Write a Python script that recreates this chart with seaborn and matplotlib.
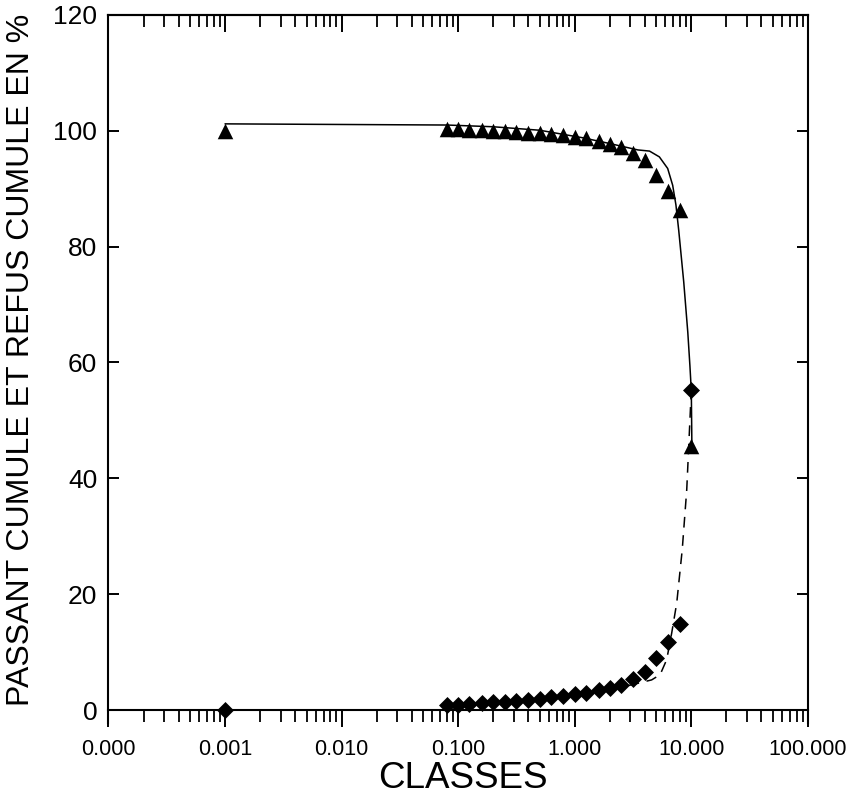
import matplotlib
matplotlib.use("Agg")
import numpy as np
import pandas as pd
import seaborn as sns
import matplotlib.pyplot as plt
from matplotlib.ticker import LogLocator, FixedLocator, FixedFormatter, NullFormatter

# ---------------- data ----------------
sizes = [0.001, 0.08, 0.1, 0.125, 0.16, 0.2, 0.25, 0.315, 0.4, 0.5, 0.63, 0.8,
         1.0, 1.25, 1.6, 2.0, 2.5, 3.15, 4.0, 5.0, 6.3, 8.0, 10.0]
passant = [100.0, 100.3, 100.3, 100.1, 100.1, 100.0, 99.9, 99.8, 99.6, 99.6, 99.4, 99.3,
           99.0, 98.7, 98.2, 97.8, 97.2, 96.1, 94.9, 92.3, 89.6, 86.3, 45.6]
refus = [0.0, 0.9, 0.9, 1.0, 1.15, 1.3, 1.45, 1.6, 1.75, 1.9, 2.2, 2.4,
         2.7, 3.0, 3.45, 3.85, 4.35, 5.3, 6.6, 8.9, 11.7, 14.9, 55.3]

fit_pass_x = [0.001, 0.08, 0.2, 0.5, 1.17, 2.0, 3.48, 4.38, 5.32, 6.27, 6.92, 7.38,
              7.8, 8.61, 9.33, 9.73, 10.0, 10.1, 10.1]
fit_pass_y = [101.2, 101.0, 100.7, 100.1, 98.8, 97.8, 96.7, 96.5, 95.5, 93.5, 90.6, 87.2,
              82.8, 73.9, 65.2, 59.4, 55.1, 46.8, 45.6]

fit_ref_x = [0.08, 0.2, 0.5, 1.0, 2.0, 3.15, 4.57, 5.40, 6.15, 6.79, 7.50, 8.36, 9.14, 10.0]
fit_ref_y = [0.6, 1.0, 1.6, 2.4, 3.5, 4.4, 5.2, 6.1, 8.7, 13.3, 18.5, 27.7, 38.1, 55.3]

x_ticks = [0.0001, 0.001, 0.01, 0.1, 1.0, 10.0, 100.0]
x_tick_labels = ["0.000", "0.001", "0.010", "0.100", "1.000", "10.000", "100.000"]
y_ticks = [0, 20, 40, 60, 80, 100, 120]
y_tick_labels = ["0", "20", "40", "60", "80", "100", "120"]

# ---------------- style ----------------
sns.set_style("ticks")
plt.rcParams["font.family"] = ["Liberation Sans", "DejaVu Sans"]
plt.rcParams["text.color"] = "black"
plt.rcParams["xtick.color"] = "black"
plt.rcParams["ytick.color"] = "black"
plt.rcParams["xtick.labelcolor"] = "black"
plt.rcParams["ytick.labelcolor"] = "black"

fig = plt.figure(figsize=(8.54, 8.01), dpi=100)
ax = fig.add_axes([0.127, 0.0974, 0.819, 0.8839])

pts = pd.DataFrame({"x": sizes, "passant": passant, "refus": refus})

sns.lineplot(x=fit_pass_x, y=fit_pass_y, sort=False, estimator=None, color="black",
             linewidth=1.1, ax=ax)
sns.lineplot(x=fit_ref_x, y=fit_ref_y, sort=False, estimator=None, color="black",
             linewidth=1.1, linestyle=(0, (7, 5)), ax=ax)
sns.scatterplot(data=pts, x="x", y="passant", marker="^", color="black", s=125,
                linewidth=0, ax=ax, zorder=5)
sns.scatterplot(data=pts, x="x", y="refus", marker="D", color="black", s=75,
                linewidth=0, ax=ax, zorder=5)

ax.set_xscale("log")
ax.set_xlim(1e-4, 1e2)
ax.set_ylim(-2.24, 120)
ax.set_xlabel("")
ax.set_ylabel("")

for sp in ax.spines.values():
    sp.set_visible(True)
    sp.set_color("black")
    sp.set_linewidth(1.5)
ax.spines["bottom"].set_position(("data", 0))

# x axis (bottom): outward ticks
ax.xaxis.set_major_locator(FixedLocator(x_ticks))
ax.xaxis.set_major_formatter(FixedFormatter(x_tick_labels))
ax.xaxis.set_minor_locator(LogLocator(base=10, subs=np.arange(2, 10), numticks=20))
ax.xaxis.set_minor_formatter(NullFormatter())
ax.tick_params(axis="x", which="major", direction="out", length=12, width=1.4,
               labelsize=15.5, pad=9, top=False, bottom=True, colors="black")
ax.tick_params(axis="x", which="minor", direction="out", length=8.5, width=1.3,
               top=False, bottom=True, colors="black")

# top: inward ticks
sec = ax.secondary_xaxis("top")
sec.xaxis.set_major_locator(FixedLocator(x_ticks))
sec.xaxis.set_major_formatter(NullFormatter())
sec.xaxis.set_minor_locator(LogLocator(base=10, subs=np.arange(2, 10), numticks=20))
sec.xaxis.set_minor_formatter(NullFormatter())
sec.tick_params(axis="x", which="major", direction="in", length=12, width=1.4, colors="black")
sec.tick_params(axis="x", which="minor", direction="in", length=8.5, width=1.3, colors="black")
sec.spines["top"].set_linewidth(1.5)
sec.spines["top"].set_color("black")

# y axis
ax.yaxis.set_major_locator(FixedLocator(y_ticks))
ax.yaxis.set_major_formatter(FixedFormatter(y_tick_labels))
ax.tick_params(axis="y", which="major", direction="in", length=8, width=1.4,
               labelsize=19, pad=8, left=True, right=True, colors="black")

fig.text(463 / 854, 1 - 778 / 801, "CLASSES", fontsize=26.5, ha="center", va="center",
         color="black")
fig.text(21 / 854, 1 - 360 / 801, "PASSANT CUMULE ET REFUS CUMULE EN %", fontsize=23,
         rotation=90, ha="center", va="center", color="black")

fig.savefig("out.png", dpi=100, facecolor="white")
